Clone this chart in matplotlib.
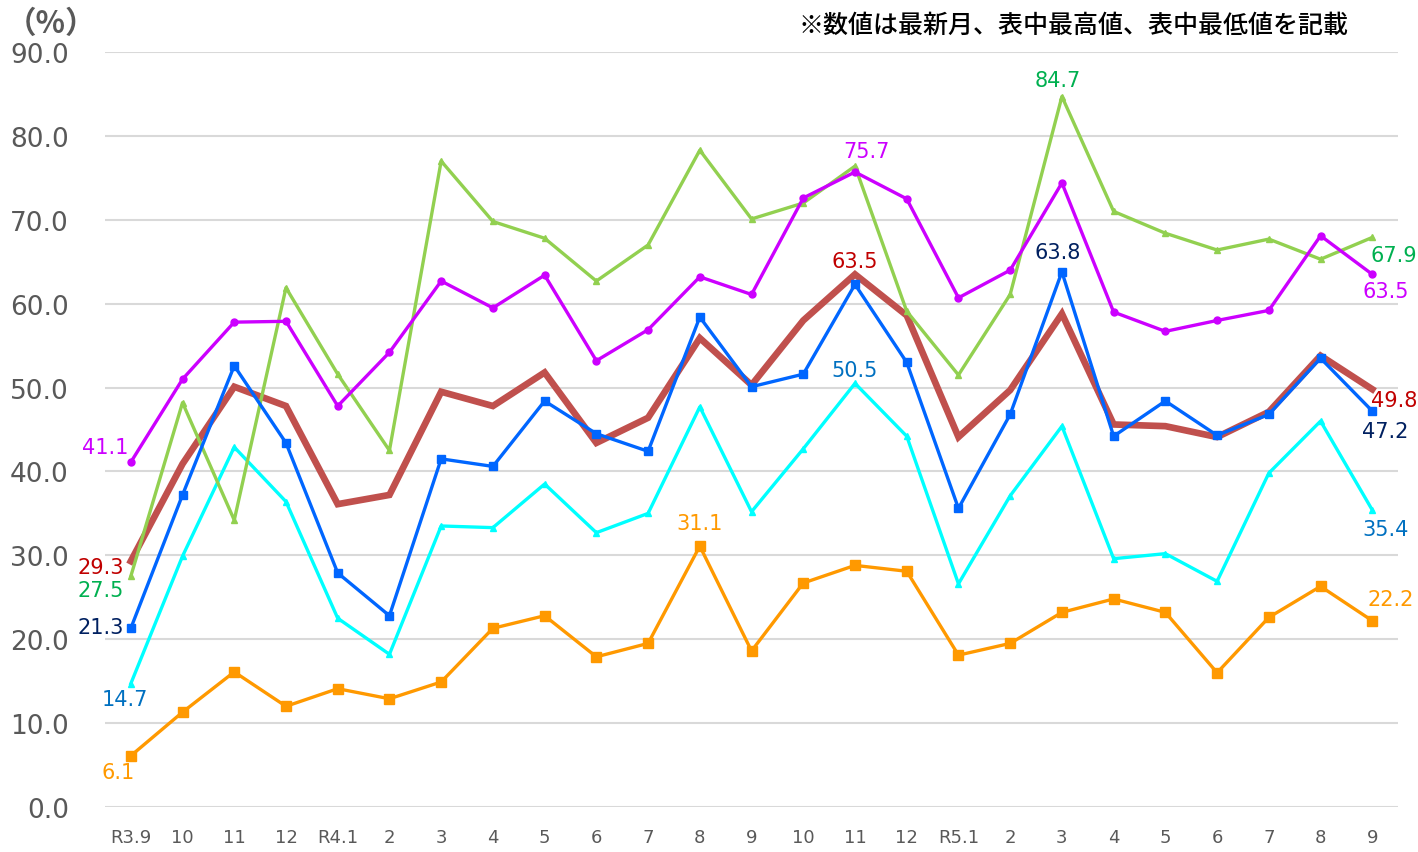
import matplotlib.pyplot as plt
import numpy as np

# x categories (months)
months = ['R3.9', '10', '11', '12', 'R4.1', '2', '3', '4', '5', '6', '7', '8', '9',
          '10', '11', '12', 'R5.1', '2', '3', '4', '5', '6', '7', '8', '9']

# series values (%)
purple = [41.1, 51.0, 57.8, 57.9, 47.8, 54.2, 62.7, 59.5, 63.4, 53.2, 56.9, 63.2, 61.1,
          72.6, 75.7, 72.5, 60.7, 64.0, 74.4, 59.0, 56.7, 58.0, 59.2, 68.1, 63.5]
green = [27.5, 48.2, 34.2, 61.9, 51.6, 42.5, 77.0, 69.8, 67.8, 62.7, 67.0, 78.3, 70.1,
         72.0, 76.4, 59.1, 51.5, 61.1, 84.7, 71.0, 68.4, 66.4, 67.7, 65.3, 67.9]
red = [29.3, 40.9, 50.1, 47.8, 36.1, 37.2, 49.5, 47.8, 51.8, 43.4, 46.4, 55.9, 50.3,
       58.0, 63.5, 58.6, 44.1, 49.7, 58.8, 45.6, 45.4, 44.1, 47.1, 53.8, 49.8]
blue = [21.3, 37.2, 52.6, 43.4, 27.9, 22.8, 41.5, 40.6, 48.4, 44.5, 42.4, 58.4, 50.1,
        51.6, 62.3, 53.0, 35.6, 46.8, 63.8, 44.2, 48.4, 44.3, 46.8, 53.5, 47.2]
cyan = [14.7, 29.9, 42.9, 36.4, 22.5, 18.2, 33.5, 33.3, 38.5, 32.7, 35.0, 47.7, 35.2,
        42.7, 50.5, 44.2, 26.6, 37.1, 45.4, 29.6, 30.2, 26.9, 39.8, 46.0, 35.4]
orange = [6.1, 11.3, 16.1, 12.0, 14.1, 12.9, 14.9, 21.3, 22.8, 17.9, 19.5, 31.1, 18.6,
          26.7, 28.8, 28.1, 18.1, 19.5, 23.2, 24.8, 23.2, 16.0, 22.6, 26.3, 22.2]

x = np.arange(len(months))

fig = plt.figure(figsize=(14.18, 8.53), dpi=100)
ax = fig.add_axes([0.074, 0.0528, 0.912, 0.885])

ax.plot(x, red, color='#C0504D', linewidth=4.8, solid_joinstyle='miter', zorder=2)
ax.plot(x, orange, color='#FF9900', linewidth=2.4, marker='s', markersize=7, zorder=3)
ax.plot(x, cyan, color='#00FFFF', linewidth=2.4, marker='^', markersize=5, zorder=3)
ax.plot(x, green, color='#92D050', linewidth=2.4, marker='^', markersize=5, zorder=3)
ax.plot(x, purple, color='#CC00FF', linewidth=2.4, marker='o', markersize=5, zorder=4)
ax.plot(x, blue, color='#0066FF', linewidth=2.4, marker='s', markersize=6, zorder=5)

ax.set_xlim(-0.5, len(months) - 0.5)
ax.set_ylim(0, 90)
ax.set_yticks(np.arange(0, 91, 10))
ax.set_yticklabels([f'{v:.1f}' for v in range(0, 91, 10)], fontsize=19, color='#595959')
ax.set_xticks(x)
ax.set_xticklabels(months, fontsize=13, color='#595959')
ax.tick_params(length=0)
ax.tick_params(axis='y', pad=26)
ax.tick_params(axis='x', pad=15)
ax.grid(axis='y', color='#D9D9D9', linewidth=1.5)
ax.set_axisbelow(True)
for s in ax.spines.values():
    s.set_visible(False)

# data labels: (series, index, colour, dx, dy) offsets in pixels
def lab(vals, i, col, dx, dy):
    ax.annotate(f'{vals[i]:.1f}', (x[i], vals[i]), xytext=(dx, dy),
                textcoords='offset pixels', ha='center', va='center',
                fontsize=15, color=col, annotation_clip=False)

lab(purple, 0, '#CC00FF', -26, 15)
lab(red, 0, '#C00000', -30, -6)
lab(green, 0, '#00B050', -30, -14)
lab(blue, 0, '#002060', -30, 1)
lab(cyan, 0, '#0070C0', -6, -15)
lab(orange, 0, '#FF9900', -13, -16)
lab(purple, 14, '#CC00FF', 11, 21)
lab(red, 14, '#C00000', 0, 13)
lab(cyan, 14, '#0070C0', 0, 13)
lab(orange, 11, '#FF9900', 0, 23)
lab(green, 18, '#00B050', -4, 17)
lab(blue, 18, '#002060', -4, 20)
lab(green, 24, '#00B050', 22, -18)
lab(purple, 24, '#CC00FF', 13, -17)
lab(red, 24, '#C00000', 22, -11)
lab(blue, 24, '#002060', 13, -20)
lab(cyan, 24, '#0070C0', 13, -19)
lab(orange, 24, '#FF9900', 18, 22)

fig.text(0.036, 0.972, '（%）', fontsize=22, color='#595959', ha='center', va='center',
         family=['Noto Sans CJK JP', 'DejaVu Sans'], fontweight='bold')
fig.text(0.951, 0.970, '※数値は最新月、表中最高値、表中最低値を記載', fontsize=18,
         color='black', ha='right', va='center',
         family=['Noto Sans CJK JP', 'DejaVu Sans'], fontweight='medium')

fig.savefig('out.png', dpi=100)
